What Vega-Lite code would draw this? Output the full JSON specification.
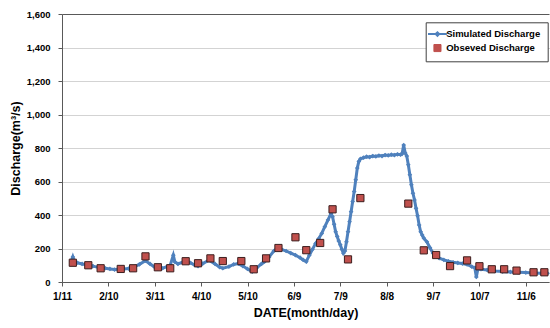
{
  "$schema": "https://vega.github.io/schema/vega-lite/v6.json",
  "width": 487,
  "height": 268,
  "autosize": "none",
  "padding": {"left": 62, "top": 14, "right": 1, "bottom": 46},
  "background": "white",
  "config": {
    "view": {"stroke": null},
    "font": "Liberation Sans"
  },
  "datasets": {
    "sim": [
      {"date":"2012-01-17","q":125},{"date":"2012-01-18","q":150},{"date":"2012-01-19","q":122},{"date":"2012-01-21","q":115},
      {"date":"2012-01-24","q":108},{"date":"2012-01-28","q":101},{"date":"2012-01-31","q":95},{"date":"2012-02-04","q":86},
      {"date":"2012-02-08","q":82},{"date":"2012-02-11","q":78},{"date":"2012-02-14","q":74},{"date":"2012-02-17","q":76},
      {"date":"2012-02-20","q":78},{"date":"2012-02-23","q":80},{"date":"2012-02-26","q":88},{"date":"2012-03-01","q":105},
      {"date":"2012-03-05","q":127},{"date":"2012-03-08","q":108},{"date":"2012-03-11","q":88},{"date":"2012-03-13","q":80},
      {"date":"2012-03-16","q":82},{"date":"2012-03-19","q":92},{"date":"2012-03-21","q":100},{"date":"2012-03-23","q":160},
      {"date":"2012-03-24","q":120},{"date":"2012-03-26","q":108},{"date":"2012-03-29","q":118},{"date":"2012-03-31","q":125},
      {"date":"2012-04-03","q":115},{"date":"2012-04-06","q":100},{"date":"2012-04-08","q":95},{"date":"2012-04-11","q":110},
      {"date":"2012-04-15","q":130},{"date":"2012-04-19","q":108},{"date":"2012-04-22","q":88},{"date":"2012-04-24","q":82},
      {"date":"2012-04-28","q":92},{"date":"2012-05-01","q":105},{"date":"2012-05-04","q":110},{"date":"2012-05-07","q":95},
      {"date":"2012-05-10","q":78},{"date":"2012-05-13","q":62},{"date":"2012-05-16","q":85},{"date":"2012-05-19","q":108},
      {"date":"2012-05-21","q":121},{"date":"2012-05-24","q":150},{"date":"2012-05-27","q":185},{"date":"2012-05-29","q":200},
      {"date":"2012-06-01","q":195},{"date":"2012-06-04","q":185},{"date":"2012-06-07","q":172},{"date":"2012-06-10","q":160},
      {"date":"2012-06-13","q":145},{"date":"2012-06-15","q":132},{"date":"2012-06-17","q":122},{"date":"2012-06-19","q":160},
      {"date":"2012-06-21","q":195},{"date":"2012-06-23","q":230},{"date":"2012-06-25","q":258},{"date":"2012-06-27","q":290},
      {"date":"2012-06-29","q":330},{"date":"2012-07-01","q":370},{"date":"2012-07-03","q":410},{"date":"2012-07-04","q":390},
      {"date":"2012-07-05","q":345},{"date":"2012-07-06","q":300},{"date":"2012-07-07","q":272},{"date":"2012-07-08","q":245},
      {"date":"2012-07-09","q":222},{"date":"2012-07-10","q":195},{"date":"2012-07-11","q":172},{"date":"2012-07-12","q":185},
      {"date":"2012-07-13","q":240},{"date":"2012-07-14","q":300},{"date":"2012-07-15","q":360},{"date":"2012-07-16","q":420},
      {"date":"2012-07-17","q":480},{"date":"2012-07-18","q":540},{"date":"2012-07-19","q":610},{"date":"2012-07-20","q":680},
      {"date":"2012-07-21","q":720},{"date":"2012-07-22","q":735},{"date":"2012-07-24","q":742},{"date":"2012-07-26","q":748},
      {"date":"2012-07-28","q":746},{"date":"2012-07-30","q":752},{"date":"2012-08-01","q":750},{"date":"2012-08-03","q":755},
      {"date":"2012-08-05","q":752},{"date":"2012-08-07","q":758},{"date":"2012-08-09","q":756},{"date":"2012-08-11","q":760},
      {"date":"2012-08-13","q":758},{"date":"2012-08-15","q":762},{"date":"2012-08-17","q":760},{"date":"2012-08-18","q":765},
      {"date":"2012-08-19","q":818},{"date":"2012-08-20","q":770},{"date":"2012-08-21","q":752},{"date":"2012-08-22","q":700},
      {"date":"2012-08-23","q":640},{"date":"2012-08-24","q":580},{"date":"2012-08-25","q":530},{"date":"2012-08-26","q":490},
      {"date":"2012-08-27","q":440},{"date":"2012-08-28","q":395},{"date":"2012-08-29","q":340},{"date":"2012-08-30","q":300},
      {"date":"2012-08-31","q":280},{"date":"2012-09-01","q":262},{"date":"2012-09-03","q":240},{"date":"2012-09-05","q":205},
      {"date":"2012-09-07","q":172},{"date":"2012-09-09","q":155},{"date":"2012-09-11","q":142},{"date":"2012-09-14","q":132},
      {"date":"2012-09-17","q":124},{"date":"2012-09-20","q":118},{"date":"2012-09-23","q":114},{"date":"2012-09-26","q":110},
      {"date":"2012-09-29","q":105},{"date":"2012-10-02","q":92},{"date":"2012-10-04","q":85},{"date":"2012-10-05","q":30},
      {"date":"2012-10-06","q":78},{"date":"2012-10-08","q":76},{"date":"2012-10-12","q":72},{"date":"2012-10-17","q":66},
      {"date":"2012-10-22","q":62},{"date":"2012-10-27","q":60},{"date":"2012-11-01","q":58},{"date":"2012-11-06","q":56},
      {"date":"2012-11-11","q":54},{"date":"2012-11-16","q":52},{"date":"2012-11-20","q":52}
    ],
    "obs": [
      {"date":"2012-01-18","q":115},{"date":"2012-01-28","q":100},{"date":"2012-02-05","q":82},{"date":"2012-02-18","q":78},
      {"date":"2012-02-26","q":82},{"date":"2012-03-05","q":153},{"date":"2012-03-13","q":88},{"date":"2012-03-21","q":82},
      {"date":"2012-03-31","q":124},{"date":"2012-04-08","q":112},{"date":"2012-04-16","q":141},{"date":"2012-04-24","q":125},
      {"date":"2012-05-06","q":125},{"date":"2012-05-14","q":76},{"date":"2012-05-22","q":141},{"date":"2012-05-30","q":203},
      {"date":"2012-06-10","q":267},{"date":"2012-06-17","q":190},{"date":"2012-06-26","q":233},{"date":"2012-07-04","q":434},
      {"date":"2012-07-14","q":135},{"date":"2012-07-22","q":501},{"date":"2012-08-22","q":468},{"date":"2012-09-01","q":189},
      {"date":"2012-09-09","q":161},{"date":"2012-09-18","q":95},{"date":"2012-09-29","q":129},{"date":"2012-10-07","q":94},
      {"date":"2012-10-15","q":76},{"date":"2012-10-23","q":76},{"date":"2012-10-31","q":68},{"date":"2012-11-11","q":58},
      {"date":"2012-11-18","q":58}
    ]
  },
  "encoding": {
    "x": {
      "field": "date", "type": "temporal",
      "scale": {"type": "utc", "domain": [{"year":2012,"month":1,"date":11,"utc":true},{"year":2012,"month":11,"date":21,"utc":true}]},
      "axis": {
        "title": "DATE(month/day)",
        "values": [
          {"year":2012,"month":1,"date":11,"utc":true},{"year":2012,"month":2,"date":10,"utc":true},
          {"year":2012,"month":3,"date":11,"utc":true},{"year":2012,"month":4,"date":10,"utc":true},
          {"year":2012,"month":5,"date":10,"utc":true},{"year":2012,"month":6,"date":9,"utc":true},
          {"year":2012,"month":7,"date":9,"utc":true},{"year":2012,"month":8,"date":8,"utc":true},
          {"year":2012,"month":9,"date":7,"utc":true},{"year":2012,"month":10,"date":7,"utc":true},
          {"year":2012,"month":11,"date":6,"utc":true}
        ],
        "format": "%-m/%-d",
        "grid": false,
        "domainColor": "#595959", "tickColor": "#595959", "tickSize": 4,
        "labelFont": "Liberation Sans", "labelFontSize": 10, "labelFontWeight": "bold", "labelColor": "#000",
        "labelPadding": 5, "labelFlush": false, "labelOverlap": false,
        "titleFont": "Liberation Sans", "titleFontSize": 12.5, "titleFontWeight": "bold", "titleColor": "#000",
        "titlePadding": 5
      }
    },
    "y": {
      "field": "q", "type": "quantitative",
      "scale": {"domain": [0, 1600], "nice": false},
      "axis": {
        "title": "Discharge(m³/s)",
        "values": [0,200,400,600,800,1000,1200,1400,1600],
        "format": ",.0f",
        "grid": true,
        "gridColor": {"condition": {"test": "datum.value === 1600", "value": "#595959"}, "value": "#a6a6a6"},
        "gridDash": {"condition": {"test": "datum.value === 1600", "value": []}, "value": [1, 1]},
        "domainColor": "#595959", "tickColor": "#595959", "tickSize": 4,
        "labelFont": "Liberation Sans", "labelFontSize": 9.5, "labelFontWeight": "bold", "labelColor": "#000",
        "labelPadding": 8,
        "titleFont": "Liberation Sans", "titleFontSize": 12.5, "titleFontWeight": "bold", "titleColor": "#000",
        "titlePadding": 4
      }
    }
  },
  "layer": [
    {
      "data": {"name": "sim"},
      "mark": {"type": "line", "strokeWidth": 3, "point": {"shape": "diamond", "size": 22, "filled": true}},
      "encoding": {
        "color": {
          "datum": "Simulated Discharge",
          "scale": {"domain": ["Simulated Discharge", "Obseved Discharge"], "range": ["#4F81BD", "#C0504D"]},
          "legend": {
            "orient": "none", "legendX": 363.7, "legendY": 8.3, "title": null,
            "strokeColor": "#404040", "fillColor": "white", "padding": 7,
            "symbolSize": 196, "labelOffset": 4, "rowPadding": 2,
            "labelFont": "Liberation Sans", "labelFontSize": 9.5, "labelFontWeight": "bold", "labelColor": "#000",
            "encode": {
              "symbols": {
                "update": {
                  "shape": {"signal": "datum.value === 'Simulated Discharge' ? 'M-1.35,0H1.35M-0.25,0L0,-0.25L0.25,0L0,0.25Z' : 'square'"},
                  "fill": {"signal": "datum.value === 'Simulated Discharge' ? '#4F81BD' : '#C0504D'"},
                  "stroke": {"signal": "datum.value === 'Simulated Discharge' ? '#4F81BD' : '#3c1e1e'"},
                  "strokeWidth": {"signal": "datum.value === 'Simulated Discharge' ? 2 : 1"},
                  "size": {"signal": "datum.value === 'Simulated Discharge' ? 196 : 50"},
                  "opacity": {"value": 1}
                }
              }
            }
          }
        }
      }
    },
    {
      "data": {"name": "obs"},
      "mark": {"type": "point", "shape": "square", "filled": true, "size": 52, "stroke": "#3c1e1e", "strokeWidth": 1, "opacity": 1},
      "encoding": {
        "color": {"datum": "Obseved Discharge"}
      }
    }
  ]
}
